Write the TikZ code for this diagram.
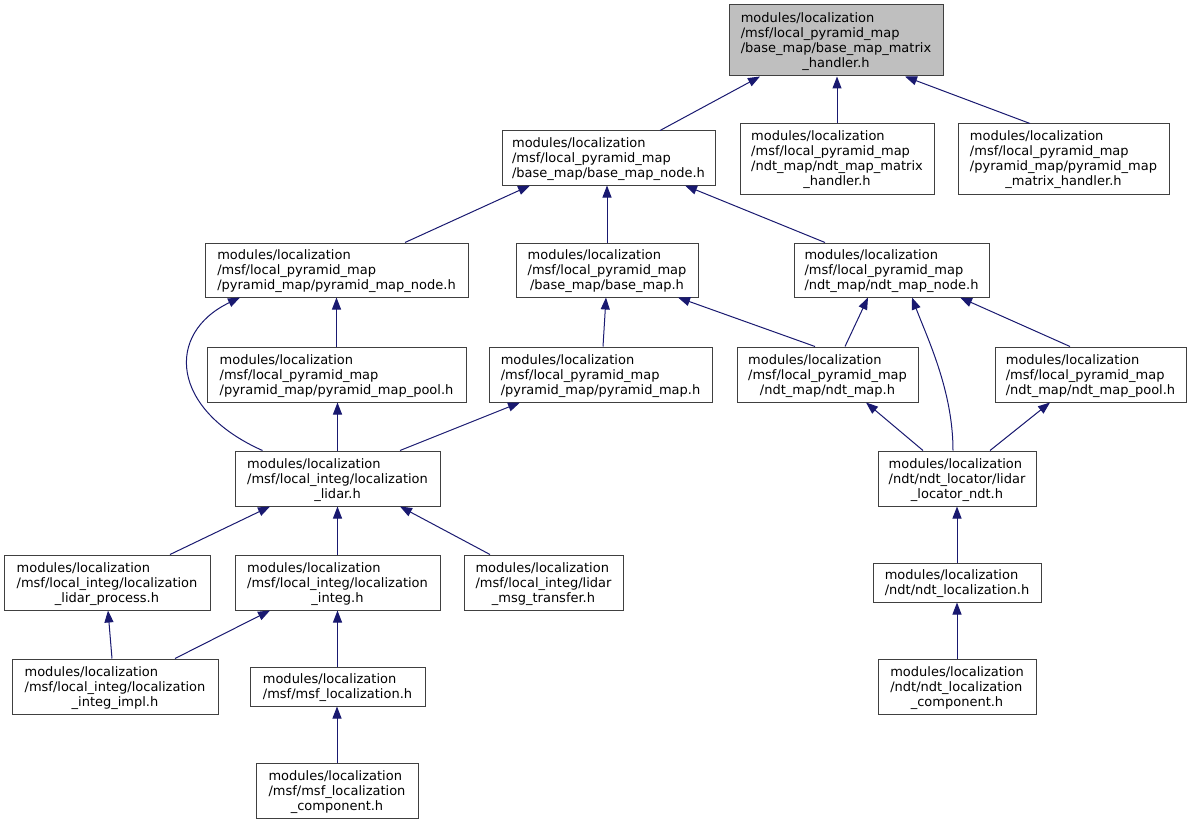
\documentclass[tikz,border=0pt]{standalone}
\usepackage{fontspec}
\setmainfont{DejaVu Sans}
\usetikzlibrary{arrows.meta}
\definecolor{edgecol}{HTML}{191970}
\definecolor{bordercol}{HTML}{404040}
\definecolor{topfill}{HTML}{BFBFBF}
\newcommand{\lbl}[2]{\raisebox{-1.5pt}[\height][\depth]{\begin{tabular}{@{}l@{}}#1\\\multicolumn{1}{@{}c@{}}{#2}\end{tabular}}}
\tikzset{
  box/.style={draw=bordercol, line width=1pt, fill=white, inner sep=0pt, font=\fontsize{13}{15}\selectfont},
  edge/.style={draw=edgecol, line width=1pt, -{Triangle[length=12pt,width=9pt]}, edgecol}
}
\begin{document}
\begin{tikzpicture}[x=1pt,y=-1pt]
\useasboundingbox (0,0) rectangle (1191,824);
% nodes
\node[box, fill=topfill, minimum width=214pt, minimum height=71pt] (A) at (836,40.5)
  {\lbl{modules/localization\\/msf/local\_pyramid\_map\\/base\_map/base\_map\_matrix}{\_handler.h}};
\node[box, minimum width=213pt, minimum height=54pt] (B) at (608.5,158)
  {\lbl{modules/localization\\/msf/local\_pyramid\_map}{/base\_map/base\_map\_node.h}};
\node[box, minimum width=194pt, minimum height=70pt] (C) at (837,159)
  {\lbl{modules/localization\\/msf/local\_pyramid\_map\\/ndt\_map/ndt\_map\_matrix}{\_handler.h}};
\node[box, minimum width=211pt, minimum height=70pt] (D) at (1063.5,159)
  {\lbl{modules/localization\\/msf/local\_pyramid\_map\\/pyramid\_map/pyramid\_map}{\_matrix\_handler.h}};
\node[box, minimum width=263pt, minimum height=54pt] (E) at (336.5,270)
  {\lbl{modules/localization\\/msf/local\_pyramid\_map}{/pyramid\_map/pyramid\_map\_node.h}};
\node[box, minimum width=182pt, minimum height=54pt] (F) at (607,270)
  {\lbl{modules/localization\\/msf/local\_pyramid\_map}{/base\_map/base\_map.h}};
\node[box, minimum width=195pt, minimum height=54pt] (G) at (891.5,270)
  {\lbl{modules/localization\\/msf/local\_pyramid\_map}{/ndt\_map/ndt\_map\_node.h}};
\node[box, minimum width=259pt, minimum height=55pt] (H) at (336.5,374.5)
  {\lbl{modules/localization\\/msf/local\_pyramid\_map}{/pyramid\_map/pyramid\_map\_pool.h}};
\node[box, minimum width=223pt, minimum height=55pt] (I) at (600.5,374.5)
  {\lbl{modules/localization\\/msf/local\_pyramid\_map}{/pyramid\_map/pyramid\_map.h}};
\node[box, minimum width=181pt, minimum height=55pt] (J) at (827.5,374.5)
  {\lbl{modules/localization\\/msf/local\_pyramid\_map}{/ndt\_map/ndt\_map.h}};
\node[box, minimum width=191pt, minimum height=55pt] (K) at (1090.5,374.5)
  {\lbl{modules/localization\\/msf/local\_pyramid\_map}{/ndt\_map/ndt\_map\_pool.h}};
\node[box, minimum width=205pt, minimum height=55pt] (L) at (337.5,478.5)
  {\lbl{modules/localization\\/msf/local\_integ/localization}{\_lidar.h}};
\node[box, minimum width=158pt, minimum height=55pt] (M) at (957,478.5)
  {\lbl{modules/localization\\/ndt/ndt\_locator/lidar}{\_locator\_ndt.h}};
\node[box, minimum width=206pt, minimum height=55pt] (N) at (107,582.5)
  {\lbl{modules/localization\\/msf/local\_integ/localization}{\_lidar\_process.h}};
\node[box, minimum width=205pt, minimum height=55pt] (O) at (337.5,582.5)
  {\lbl{modules/localization\\/msf/local\_integ/localization}{\_integ.h}};
\node[box, minimum width=159pt, minimum height=55pt] (P) at (543.5,582.5)
  {\lbl{modules/localization\\/msf/local\_integ/lidar}{\_msg\_transfer.h}};
\node[box, minimum width=168pt, minimum height=39pt] (Q) at (957,582.5)
  {\lbl{modules/localization}{/ndt/ndt\_localization.h}};
\node[box, minimum width=206pt, minimum height=55pt] (R) at (115,686.5)
  {\lbl{modules/localization\\/msf/local\_integ/localization}{\_integ\_impl.h}};
\node[box, minimum width=175pt, minimum height=39pt] (S) at (337.5,686.5)
  {\lbl{modules/localization}{/msf/msf\_localization.h}};
\node[box, minimum width=162pt, minimum height=55pt] (T) at (337,790.5)
  {\lbl{modules/localization\\/msf/msf\_localization}{\_component.h}};
\node[box, minimum width=158pt, minimum height=55pt] (U) at (957,686.5)
  {\lbl{modules/localization\\/ndt/ndt\_localization}{\_component.h}};
% edges
\draw[edge] ([xshift=51.5pt]B.north) -- ([xshift=-76pt]A.south);
\draw[edge] (C.north) -- (C.north |- A.south);
\draw[edge] ([xshift=-33.5pt]D.north) -- ([xshift=69pt]A.south);
\draw[edge] ([xshift=68.5pt]E.north) -- ([xshift=-78.5pt]B.south);
\draw[edge] (F.north) -- (F.north |- B.south);
\draw[edge] ([xshift=-66.5pt]G.north) -- ([xshift=76.5pt]B.south);
\draw[edge] (H.north) -- (H.north |- E.south);
\draw[edge] ([xshift=-75pt]L.north) .. controls +(-92,-41) and +(-75,36) .. ([xshift=-96.5pt]E.south);
\draw[edge] ([xshift=2.5pt]I.north) -- ([xshift=-1pt]F.south);
\draw[edge] ([xshift=-12.5pt]J.north) -- ([xshift=71pt]F.south);
\draw[edge] ([xshift=17.5pt]J.north) -- ([xshift=-23.5pt]G.south);
\draw[edge] ([xshift=-4pt]M.north) .. controls +(0,-60) and +(15,40) .. ([xshift=20.5pt]G.south);
\draw[edge] ([xshift=-20.5pt]K.north) -- ([xshift=68.5pt]G.south);
\draw[edge] (L.north) -- (L.north |- H.south);
\draw[edge] ([xshift=62.5pt]L.north) -- ([xshift=-80.5pt]I.south);
\draw[edge] ([xshift=-34pt]M.north) -- ([xshift=38.5pt]J.south);
\draw[edge] ([xshift=33pt]M.north) -- ([xshift=-40.5pt]K.south);
\draw[edge] (Q.north) -- (M.south);
\draw[edge] (U.north) -- (Q.south);
\draw[edge] ([xshift=63pt]N.north) -- ([xshift=-67.5pt]L.south);
\draw[edge] (O.north) -- (L.south);
\draw[edge] ([xshift=-53.5pt]P.north) -- ([xshift=62.5pt]L.south);
\draw[edge] ([xshift=-3pt]R.north) -- ([xshift=1pt]N.south);
\draw[edge] ([xshift=60pt]R.north) -- ([xshift=-67.5pt]O.south);
\draw[edge] (S.north) -- (S.north |- O.south);
\draw[edge] (T.north) -- (T.north |- S.south);
\end{tikzpicture}
\end{document}
